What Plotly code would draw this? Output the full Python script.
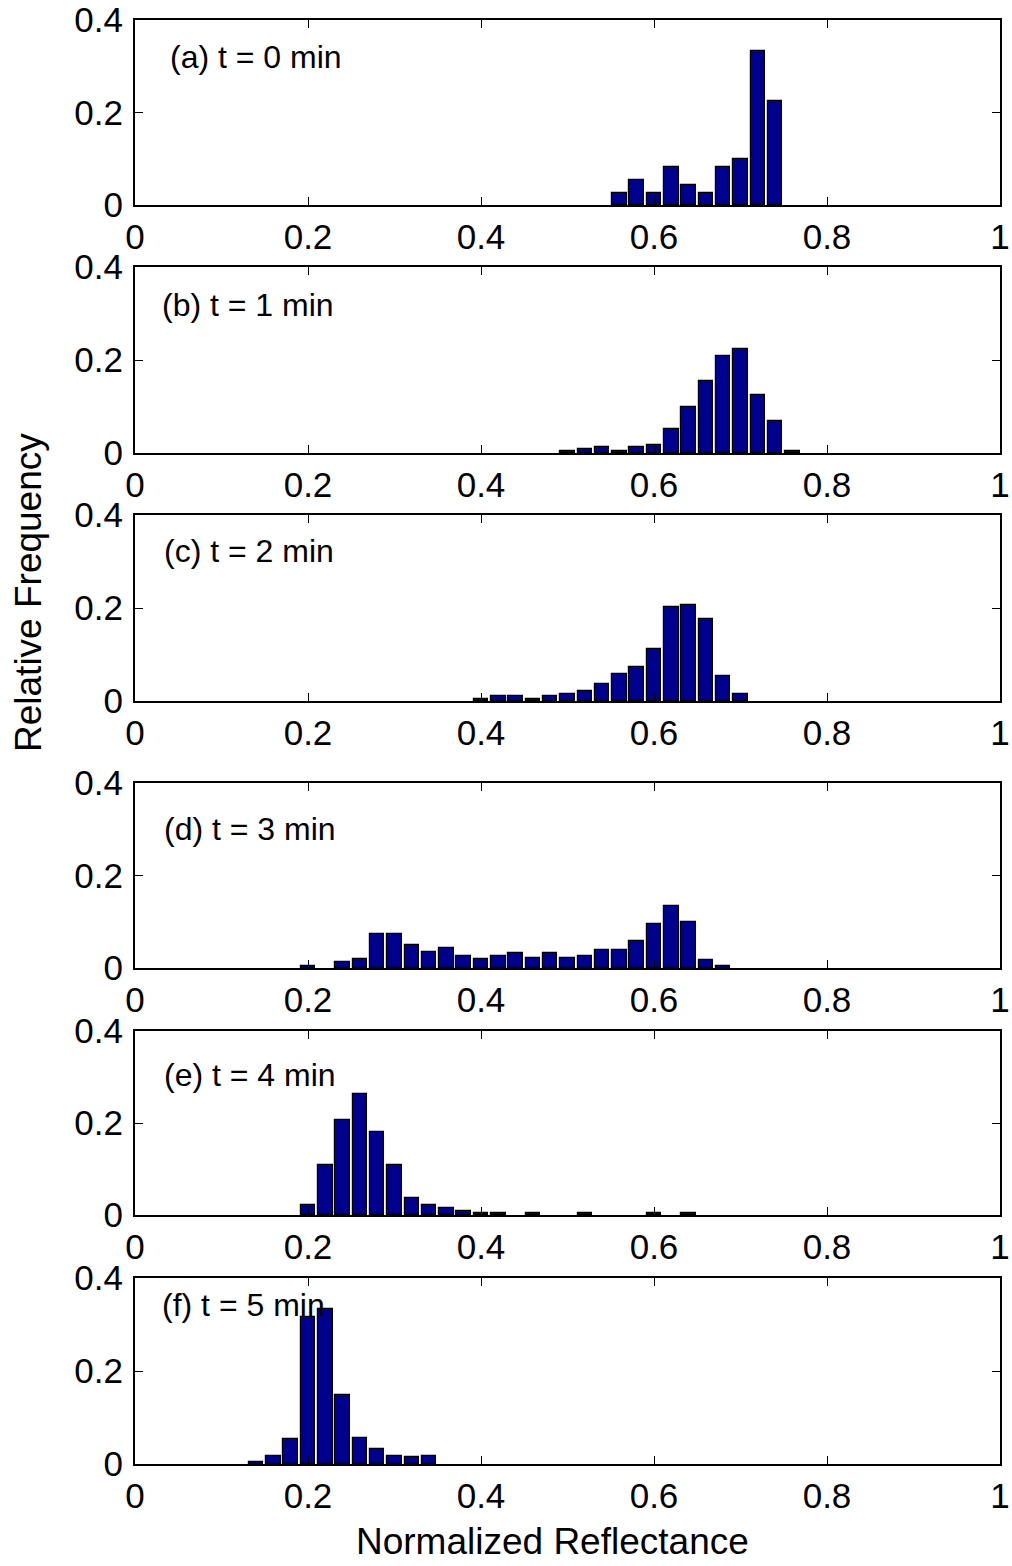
import plotly.graph_objects as go

# ---- data (bin centres and relative frequencies) ----
labels = ["(a) t = 0 min", "(b) t = 1 min", "(c) t = 2 min",
          "(d) t = 3 min", "(e) t = 4 min", "(f) t = 5 min"]

x_a = [0.56, 0.58, 0.60, 0.62, 0.64, 0.66, 0.68, 0.70, 0.72, 0.74]
y_a = [0.025, 0.055, 0.025, 0.082, 0.043, 0.025, 0.082, 0.100, 0.332, 0.225]

x_b = [0.50, 0.52, 0.54, 0.56, 0.58, 0.60, 0.62, 0.64, 0.66, 0.68, 0.70, 0.72, 0.74, 0.76]
y_b = [0.004, 0.009, 0.013, 0.004, 0.012, 0.017, 0.052, 0.099, 0.155, 0.209, 0.224, 0.125, 0.068, 0.004]

x_c = [0.40, 0.42, 0.44, 0.46, 0.48, 0.50, 0.52, 0.54, 0.56, 0.58, 0.60, 0.62, 0.64, 0.66, 0.68, 0.70]
y_c = [0.005, 0.010, 0.010, 0.005, 0.010, 0.014, 0.022, 0.036, 0.057, 0.074, 0.112, 0.203, 0.207, 0.177, 0.053, 0.015]

x_d = [0.20, 0.24, 0.26, 0.28, 0.30, 0.32, 0.34, 0.36, 0.38, 0.40, 0.42, 0.44,
       0.46, 0.48, 0.50, 0.52, 0.54, 0.56, 0.58, 0.60, 0.62, 0.64, 0.66, 0.68]
y_d = [0.005, 0.014, 0.019, 0.074, 0.074, 0.050, 0.035, 0.043, 0.027, 0.019, 0.027, 0.032,
       0.022, 0.032, 0.022, 0.027, 0.040, 0.040, 0.058, 0.096, 0.134, 0.100, 0.018, 0.005]

x_e = [0.20, 0.22, 0.24, 0.26, 0.28, 0.30, 0.32, 0.34, 0.36, 0.38, 0.40, 0.42, 0.46, 0.52, 0.60, 0.64]
y_e = [0.022, 0.108, 0.207, 0.264, 0.180, 0.108, 0.038, 0.022, 0.015, 0.008, 0.004, 0.004, 0.004, 0.004, 0.004, 0.004]

x_f = [0.14, 0.16, 0.18, 0.20, 0.22, 0.24, 0.26, 0.28, 0.30, 0.32, 0.34]
y_f = [0.005, 0.018, 0.054, 0.316, 0.333, 0.148, 0.057, 0.032, 0.018, 0.014, 0.018]

xs = [x_a, x_b, x_c, x_d, x_e, x_f]
ys = [y_a, y_b, y_c, y_d, y_e, y_f]

x_ticks = [0, 0.2, 0.4, 0.6, 0.8, 1]
x_ticktext = ["0", "0.2", "0.4", "0.6", "0.8", "1"]
y_ticks = [0, 0.2, 0.4]
y_ticktext = ["0", "0.2", "0.4"]

x_title = "Normalized Reflectance"
y_title = "Relative Frequency"

# ---- layout geometry (pixels) ----
W, H = 1012, 1566
left_px, right_px = 135, 1000
panels_px = [(20, 205), (267, 453), (515, 701), (783, 968), (1031, 1215), (1278, 1464)]
label_pos = [(0.038, 0.32), (0.029, 0.318), (0.031, 0.323), (0.031, 0.30), (0.031, 0.304), (0.029, 0.342)]

FONT = "Liberation Sans, Arial, sans-serif"
BAR_COLOR = "rgb(0,0,143)"
TICK_SIZE = 35

fig = go.Figure()
layout = dict(
    template="none",
    width=W, height=H,
    margin=dict(l=0, r=0, t=0, b=0),
    paper_bgcolor="white", plot_bgcolor="white",
    showlegend=False,
    font=dict(family=FONT, color="black", size=TICK_SIZE),
    bargap=0,
)

annotations = []
for i, (xv, yv) in enumerate(zip(xs, ys)):
    n = i + 1
    xa = "x" if n == 1 else f"x{n}"
    ya = "y" if n == 1 else f"y{n}"
    fig.add_trace(go.Bar(
        x=xv, y=yv, width=0.0168,
        marker=dict(color=BAR_COLOR, line=dict(color="black", width=1.2)),
        xaxis=xa, yaxis=ya,
    ))
    top, bot = panels_px[i]
    layout["xaxis" if n == 1 else f"xaxis{n}"] = dict(
        domain=[left_px / W, right_px / W], range=[0, 1], anchor=ya, automargin=False,
        tickvals=x_ticks, ticktext=x_ticktext, ticks="inside", ticklen=8, tickwidth=1,
        tickcolor="black", showline=True, linecolor="black", linewidth=2, mirror="ticks",
        showgrid=False, zeroline=False, tickfont=dict(size=TICK_SIZE, family=FONT),
        ticklabelstandoff=0,
    )
    layout["yaxis" if n == 1 else f"yaxis{n}"] = dict(
        domain=[1 - bot / H, 1 - top / H], range=[0, 0.4], anchor=xa, automargin=False,
        tickvals=y_ticks, ticktext=y_ticktext, ticks="inside", ticklen=8, tickwidth=1,
        tickcolor="black", showline=True, linecolor="black", linewidth=2, mirror="ticks",
        showgrid=False, zeroline=False, tickfont=dict(size=TICK_SIZE, family=FONT),
        ticklabelstandoff=3,
    )
    lx, ly = label_pos[i]
    annotations.append(dict(
        text=labels[i], x=lx, y=ly, xref=xa, yref=ya, xanchor="left", yanchor="middle",
        showarrow=False, font=dict(size=32, family=FONT, color="black"),
    ))

annotations.append(dict(
    text=x_title, x=552 / W, y=1 - 1541 / H, xref="paper", yref="paper",
    xanchor="center", yanchor="middle", showarrow=False,
    font=dict(size=37, family=FONT, color="black"),
))
annotations.append(dict(
    text=y_title, x=28 / W, y=1 - 593 / H, xref="paper", yref="paper",
    xanchor="center", yanchor="middle", showarrow=False, textangle=-90,
    font=dict(size=37, family=FONT, color="black"),
))
layout["annotations"] = annotations
fig.update_layout(**layout)
fig.write_html(
    "out.html",
    config={"displayModeBar": False},
    post_script="document.body.style.margin='0';document.body.style.padding='0';",
)
